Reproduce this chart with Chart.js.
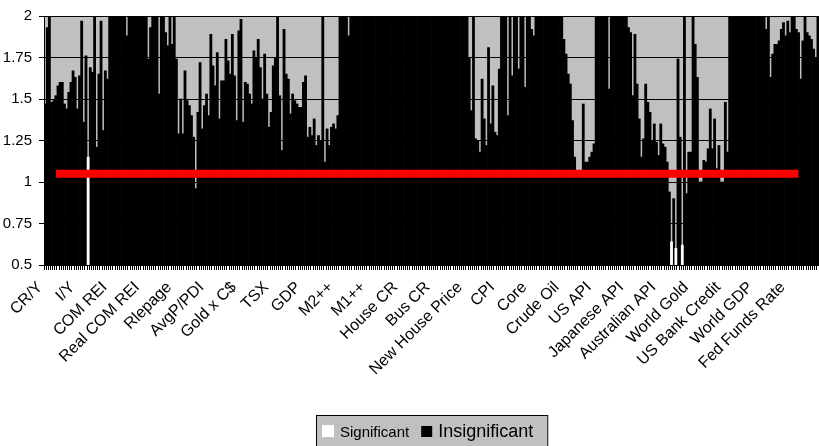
<!DOCTYPE html>
<html>
<head>
<meta charset="utf-8">
<script src="https://cdn.jsdelivr.net/npm/chart.js@4/dist/chart.umd.min.js"></script>
<style>
  html, body { margin: 0; padding: 0; background: #fff; }
  #wrap { width: 819px; height: 446px; }
</style>
</head>
<body>
<div id="wrap"><canvas id="chart"></canvas></div>
<script>
// names shown under the axis, one per variable (15 lags each)
const groupNames = ['CR/Y', 'I/Y', 'COM REI', 'Real COM REI', 'Rlepage', 'AvgP/PDI', 'Gold x C$', 'TSX', 'GDP',
    'M2++', 'M1++', 'House CR', 'Bus CR', 'New House Price', 'CPI', 'Core', 'Crude Oil', 'US API',
    'Japanese API', 'Australian API', 'World Gold', 'US Bank Credit', 'World GDP', 'Fed Funds Rate'];

// bar values per variable (values over 2 are cut off by the axis)
const crY = [1.47, 1.93, 2.2, 1.48, 1.49, 1.52, 1.58, 1.60, 1.60, 1.47, 1.44, 1.54, 1.60, 1.67, 1.63];
const iY = [1.44, 1.64, 1.97, 1.36, 1.76, 1.15, 1.69, 1.66, 2.2, 1.21, 1.65, 1.97, 1.31, 1.67, 1.62];
const comRei = [2.2, 2.3, 2.2, 2.4, 2.2, 2.3, 2.2, 2.2, 1.88, 2.3, 2.2, 2.4, 2.2, 2.3, 2.2];
const realComRei = [2.2, 2.3, 2.2, 1.74, 1.93, 2.2, 2.3, 2.2, 1.53, 2.2, 2.3, 1.9, 1.82, 2.2, 1.83];
const rlepage = [2.1, 1.74, 1.29, 1.50, 1.29, 1.67, 1.49, 1.46, 1.40, 1.27, 0.96, 1.42, 1.72, 1.32, 1.46];
const avgPPdi = [1.53, 1.40, 1.89, 1.70, 1.58, 1.78, 1.38, 1.61, 1.61, 1.86, 1.73, 1.65, 1.89, 1.64, 1.37];
const goldCad = [1.91, 1.98, 1.36, 1.60, 1.59, 1.53, 1.47, 1.79, 1.75, 1.86, 1.69, 1.50, 1.77, 1.53, 1.33];
const tsx = [1.42, 1.70, 1.75, 2.2, 1.52, 1.19, 1.92, 1.65, 1.62, 1.41, 1.53, 1.49, 1.47, 1.45, 1.45];
const gdp = [1.60, 1.64, 1.27, 1.33, 1.28, 1.38, 1.22, 1.28, 1.25, 2.2, 1.12, 1.32, 1.22, 1.33, 1.35];
const m2pp = [1.32, 1.40, 2.2, 2.3, 2.2, 2.2, 1.88, 2.3, 2.2, 2.2, 2.4, 2.2, 2.3, 2.2, 2.2];
const m1pp = [2.2, 2.3, 2.2, 2.4, 2.2, 2.2, 2.3, 2.2, 2.2, 2.4, 2.2, 2.3, 2.2, 2.2, 2.3];
const houseCr = [2.3, 2.2, 2.2, 2.4, 2.2, 2.3, 2.2, 2.2, 2.3, 2.2, 2.4, 2.2, 2.2, 2.3, 2.2];
const busCr = [2.2, 2.4, 2.2, 2.3, 2.2, 2.2, 2.3, 2.2, 2.4, 2.2, 2.2, 2.3, 2.2, 2.2, 2.3];
const newHousePrice = [2.2, 2.3, 1.75, 1.43, 2.2, 1.26, 1.25, 1.18, 1.62, 1.38, 1.22, 1.81, 1.35, 1.58, 1.30];
const cpi = [1.28, 1.68, 2.2, 2.3, 2.2, 1.40, 2.2, 1.64, 2.3, 2.2, 1.68, 2.2, 2.3, 1.57, 2.2];
const core = [2.2, 1.92, 1.88, 2.2, 2.3, 2.2, 2.2, 2.4, 2.2, 2.3, 2.2, 2.2, 2.3, 2.2, 2.2];
const crudeOil = [2.2, 1.86, 1.77, 1.65, 1.59, 1.37, 1.15, 1.07, 1.03, 1.03, 1.47, 1.12, 1.12, 1.15, 1.18];
const usApi = [1.23, 2.2, 2.3, 2.2, 2.2, 2.3, 2.2, 1.56, 2.2, 2.3, 2.2, 2.2, 2.4, 2.2, 2.3];
const japaneseApi = [2.2, 1.93, 1.90, 1.52, 1.89, 1.59, 1.38, 1.15, 1.26, 1.59, 1.48, 1.42, 1.25, 1.35, 1.24];
const australianApi = [1.16, 1.35, 1.23, 1.21, 1.12, 0.94, 0.64, 0.90, 0.60, 1.74, 1.27, 0.62, 2.2, 0.93, 1.18];
const worldGold = [1.18, 2.2, 1.83, 1.63, 1.0, 1.0, 1.13, 1.12, 1.20, 1.44, 1.20, 1.38, 1.08, 1.22, 1.0];
const usBankCredit = [1.0, 1.48, 1.18, 2.2, 2.3, 2.2, 2.2, 2.4, 2.2, 2.3, 2.2, 2.2, 2.3, 2.2, 2.2];
const worldGdp = [2.2, 2.3, 2.2, 2.2, 2.3, 1.92, 2.2, 1.63, 1.77, 1.83, 1.83, 1.85, 1.92, 1.96, 1.88];
const fedFundsRate = [1.97, 1.90, 2.2, 2.3, 1.92, 1.90, 1.62, 1.85, 2.2, 1.90, 1.88, 1.86, 1.80, 1.75, 2.2];

// [variable, lag] of the bars that are significant (white)
const significantBars = [[1, 5], [19, 6], [19, 8], [19, 11]];

// red critical value line, from bar 5 to bar 350
const criticalValue = 1.05;
const criticalFrom = 5;
const criticalTo = 350;

const series = [crY, iY, comRei, realComRei, rlepage, avgPPdi, goldCad, tsx, gdp, m2pp, m1pp, houseCr,
    busCr, newHousePrice, cpi, core, crudeOil, usApi, japaneseApi, australianApi, worldGold,
    usBankCredit, worldGdp, fedFundsRate];

const labels = [];
const sigData = [];
const insigData = [];
series.forEach(function (vals, g) {
    vals.forEach(function (v, k) {
        labels.push(k === 0 ? groupNames[g] : '');
        const sig = significantBars.some(function (s) { return s[0] === g && s[1] === k; });
        sigData.push(sig ? v : null);
        insigData.push(sig ? null : v);
    });
});
const lineData = labels.map(function (_, i) {
    return (i === criticalFrom || i === criticalTo) ? criticalValue : null;
});

const FONT = '"Liberation Sans", Arial, sans-serif';

// grey plot area
const plotBackground = {
    id: 'plotBackground',
    beforeDraw: function (chart) {
        const a = chart.chartArea;
        const ctx = chart.ctx;
        ctx.save();
        ctx.fillStyle = '#c0c0c0';
        ctx.fillRect(a.left, a.top, a.right - a.left, a.bottom - a.top);
        ctx.restore();
    }
};

// boxed legend at the bottom, the two entries use different text sizes
const boxLegend = {
    id: 'boxLegend',
    afterDraw: function (chart) {
        const ctx = chart.ctx;
        const a = chart.chartArea;
        const items = [
            { text: chart.data.datasets[1].label, color: '#ffffff', size: 15, box: 12 },
            { text: chart.data.datasets[2].label, color: '#000000', size: 18, box: 11 }
        ];
        ctx.save();
        let w = 6;
        items.forEach(function (it) {
            ctx.font = it.size + 'px ' + FONT;
            it.w = ctx.measureText(it.text).width;
            w += it.box + 6 + it.w + 12;
        });
        w += 2;
        const left = Math.round((a.left + a.right) / 2 - w / 2);
        const top = 415;
        ctx.fillStyle = '#c0c0c0';
        ctx.fillRect(left, top, w, 40);
        ctx.strokeStyle = '#000';
        ctx.lineWidth = 1;
        ctx.strokeRect(left + 0.5, top + 0.5, w, 40);
        let x = left + 6;
        const base = 437;
        items.forEach(function (it) {
            ctx.fillStyle = it.color;
            ctx.fillRect(x, base - it.box, it.box, it.box);
            x += it.box + 6;
            ctx.fillStyle = '#000';
            ctx.font = it.size + 'px ' + FONT;
            ctx.textBaseline = 'alphabetic';
            ctx.fillText(it.text, x, base);
            x += it.w + 12;
        });
        ctx.restore();
    }
};

new Chart(document.getElementById('chart'), {
    data: {
        labels: labels,
        datasets: [
            {
                type: 'line',
                label: 'Critical value',
                data: lineData,
                borderColor: '#ff0000',
                borderWidth: 8,
                pointRadius: 0,
                spanGaps: true,
                order: 0
            },
            {
                type: 'bar',
                label: 'Significant',
                data: sigData,
                backgroundColor: '#ffffff',
                grouped: false,
                barPercentage: 1,
                categoryPercentage: 1,
                order: 1
            },
            {
                type: 'bar',
                label: 'Insignificant',
                data: insigData,
                backgroundColor: '#000000',
                grouped: false,
                barPercentage: 1,
                categoryPercentage: 1,
                order: 2
            }
        ]
    },
    options: {
        responsive: true,
        maintainAspectRatio: false,
        animation: false,
        layout: { padding: { top: 12, right: 0, left: 0, bottom: 0 } },
        plugins: {
            legend: { display: false },
            tooltip: { enabled: false }
        },
        scales: {
            x: {
                type: 'category',
                offset: true,
                afterFit: function (axis) {
                    axis.height = 181;
                    axis.paddingLeft = 0;
                    axis.paddingRight = 0;
                },
                grid: { drawOnChartArea: false, color: '#000', tickLength: 5 },
                border: { color: '#000' },
                ticks: {
                    autoSkip: false,
                    maxRotation: 45,
                    minRotation: 45,
                    padding: 8,
                    labelOffset: -5,
                    color: '#000',
                    font: { family: FONT, size: 16 }
                }
            },
            y: {
                min: 0.5,
                max: 2,
                afterFit: function (axis) { axis.width = 44; },
                grid: { color: '#000', tickLength: 5 },
                border: { color: '#000' },
                ticks: {
                    stepSize: 0.25,
                    padding: 7,
                    color: '#000',
                    font: { family: FONT, size: 15 },
                    callback: function (v) { return String(Math.round(v * 100) / 100); }
                }
            }
        }
    },
    plugins: [plotBackground, boxLegend]
});
</script>
</body>
</html>
